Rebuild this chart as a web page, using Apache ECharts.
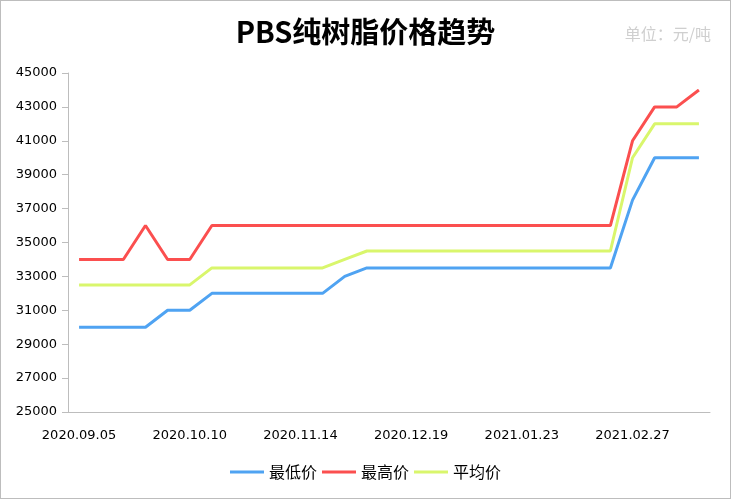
<!DOCTYPE html>
<html>
<head>
<meta charset="utf-8">
<script src="https://cdn.jsdelivr.net/npm/echarts@6/dist/echarts.min.js"></script>
<style>
  html, body { margin: 0; padding: 0; background: #fff; }
  #chart { width: 731px; height: 499px; box-sizing: border-box; border: 1px solid #bdbdbd; }
</style>
</head>
<body>
<div id="chart"></div>
<script>
var categories = [
  "2020.09.05", "2020.09.12", "2020.09.19", "2020.09.26", "2020.10.03",
  "2020.10.10", "2020.10.17", "2020.10.24", "2020.10.31", "2020.11.07",
  "2020.11.14", "2020.11.21", "2020.11.28", "2020.12.05", "2020.12.12",
  "2020.12.19", "2020.12.26", "2021.01.02", "2021.01.09", "2021.01.16",
  "2021.01.23", "2021.01.30", "2021.02.06", "2021.02.13", "2021.02.20",
  "2021.02.27", "2021.03.06", "2021.03.13", "2021.03.20"
];
var lowPrice = [
  30000, 30000, 30000, 30000, 31000, 31000, 32000, 32000, 32000, 32000,
  32000, 32000, 33000, 33500, 33500, 33500, 33500, 33500, 33500, 33500,
  33500, 33500, 33500, 33500, 33500, 37500, 40000, 40000, 40000
];
var highPrice = [
  34000, 34000, 34000, 36000, 34000, 34000, 36000, 36000, 36000, 36000,
  36000, 36000, 36000, 36000, 36000, 36000, 36000, 36000, 36000, 36000,
  36000, 36000, 36000, 36000, 36000, 41000, 43000, 43000, 44000
];
var avgPrice = [
  32500, 32500, 32500, 32500, 32500, 32500, 33500, 33500, 33500, 33500,
  33500, 33500, 34000, 34500, 34500, 34500, 34500, 34500, 34500, 34500,
  34500, 34500, 34500, 34500, 34500, 40000, 42000, 42000, 42000
];

var chart = echarts.init(document.getElementById("chart"));
var font = "'Noto Sans CJK SC', 'DejaVu Sans', sans-serif";
var numFont = "'DejaVu Sans', sans-serif";

chart.setOption({
  textStyle: { fontFamily: font },
  color: ["#4fa3f2", "#fb4f4f", "#d9f66c"],
  title: [
    {
      text: "PBS纯树脂价格趋势",
      left: "center",
      top: 11,
      textStyle: { color: "#000", fontSize: 29, fontWeight: "bold", fontFamily: font }
    },
    {
      text: "单位：元/吨",
      right: 14,
      top: 20,
      textStyle: { color: "#cfcfcf", fontSize: 16, fontWeight: "normal", fontFamily: font }
    }
  ],
  legend: {
    bottom: 13,
    left: "center",
    icon: "rect",
    itemWidth: 34,
    itemHeight: 3,
    itemGap: 5,
    textStyle: { color: "#000", fontSize: 16, fontFamily: font },
    data: ["最低价", "最高价", "平均价"]
  },
  grid: { left: 67, right: 20, top: 72, bottom: 86 },
  xAxis: {
    type: "category",
    boundaryGap: true,
    data: categories,
    axisLine: { lineStyle: { color: "#bdbdbd" } },
    axisTick: { interval: 0, length: 6, lineStyle: { color: "#bdbdbd" } },
    axisLabel: { interval: 4, color: "#000", fontSize: 13, margin: 17, fontFamily: numFont }
  },
  yAxis: {
    type: "value",
    min: 25000,
    max: 45000,
    interval: 2000,
    axisLine: { show: true, lineStyle: { color: "#bdbdbd" } },
    axisTick: { show: true, length: 6, lineStyle: { color: "#bdbdbd" } },
    splitLine: { show: false },
    axisLabel: {
      color: "#000",
      fontSize: 13,
      margin: 11,
      fontFamily: numFont,
      formatter: function (v) { return String(v); }
    }
  },
  series: [
    {
      name: "最低价",
      type: "line",
      data: lowPrice,
      symbol: "none",
      lineStyle: { width: 3 }
    },
    {
      name: "最高价",
      type: "line",
      data: highPrice,
      symbol: "none",
      lineStyle: { width: 3 }
    },
    {
      name: "平均价",
      type: "line",
      data: avgPrice,
      symbol: "none",
      lineStyle: { width: 3 }
    }
  ]
});
</script>
</body>
</html>
